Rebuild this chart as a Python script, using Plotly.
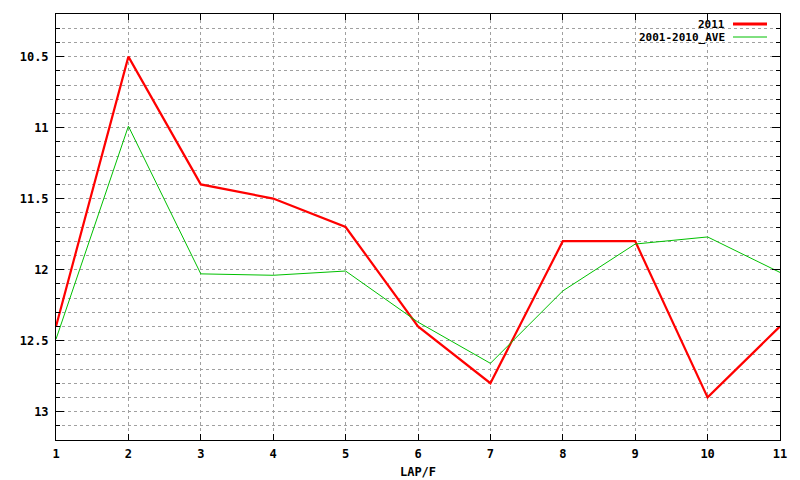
import plotly.graph_objects as go

laps = [1, 2, 3, 4, 5, 6, 7, 8, 9, 10, 11]
y2011 = [12.4, 10.5, 11.4, 11.5, 11.7, 12.4, 12.8, 11.8, 11.8, 12.9, 12.4]
yave = [12.49, 10.99, 12.03, 12.04, 12.01, 12.37, 12.66, 12.15, 11.82, 11.77, 12.02]
names = ["2011", "2001-2010_AVE"]
colors = ["#ff0000", "#00c000"]
widths = [2.2, 1]

FONT = dict(family="DejaVu Sans Mono", size=12, color="black", weight="bold")
LFONT = dict(family="DejaVu Sans Mono", size=11, color="black", weight="bold")

fig = go.Figure()
for ys, nm, c, w in zip([y2011, yave], names, colors, widths):
    fig.add_trace(go.Scatter(x=laps, y=ys, mode="lines", name=nm,
                             line=dict(color=c, width=w), showlegend=False))

grid = "#a0a0a0"
# page body has an 8px margin: plot area lands at x 56..780, y 14..440
L, R, T, B = 48, 20, 6, 40
W, H = 792, 472
fig.update_layout(
    width=W, height=H,
    margin=dict(l=L, r=R, t=T, b=B),
    paper_bgcolor="white", plot_bgcolor="white",
    font=FONT,
    xaxis=dict(range=[1, 11], dtick=1, tick0=1, showgrid=True, gridcolor=grid,
               griddash="dot", gridwidth=1, showline=True, linecolor="black",
               linewidth=1, mirror="ticks", ticks="inside", ticklen=6,
               tickcolor="black", zeroline=False, tickfont=FONT,
               ticklabelstandoff=3, automargin=False,
               title=dict(text="LAP/F", font=FONT, standoff=7)),
    yaxis=dict(range=[13.2, 10.2], dtick=0.5, tick0=10.5, showgrid=True,
               gridcolor=grid, griddash="dot", gridwidth=1, showline=True,
               linecolor="black", linewidth=1, mirror="ticks", ticks="inside",
               ticklen=8, tickcolor="black", zeroline=False, tickfont=FONT,
               ticklabelstandoff=4, automargin=False,
               minor=dict(dtick=0.1, tick0=10.2, showgrid=True, gridcolor=grid,
                          griddash="dot", gridwidth=1, ticks="inside", ticklen=4,
                          tickcolor="black")),
)

pw = W - L - R
ph = H - T - B
def px(x):
    return (x - 56) / pw
def py(y):
    return 1 - (y - 14) / ph

# gnuplot-style legend: text right-aligned, sample line at right
leg_y = [24, 37]
for nm, c, w, yy in zip(names, colors, widths, leg_y):
    fig.add_annotation(xref="paper", yref="paper", x=px(726),
                       y=py(yy), text=nm, showarrow=False,
                       borderpad=0, xanchor="right", yanchor="middle",
                       font=LFONT)
    fig.add_shape(type="line", xref="paper", yref="paper",
                  x0=px(733), x1=px(767), y0=py(yy), y1=py(yy),
                  line=dict(color=c, width=3 if w > 2 else w))

fig.write_html("out.html")
